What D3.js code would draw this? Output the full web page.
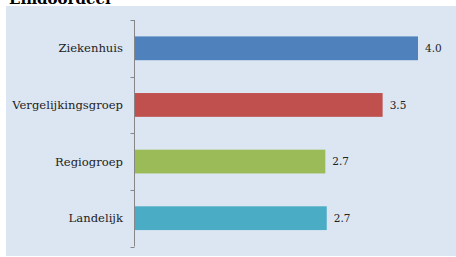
<!DOCTYPE html>
<meta charset="utf-8">
<style>
body { margin: 0; background: #fff; }
.label { font: 11.6px "DejaVu Serif", serif; fill: #222; }
.value { font: 10.5px "DejaVu Serif", serif; fill: #222; }
</style>
<body>
<div id="graph"></div>
<script src="https://d3js.org/d3.v7.min.js"></script>
<script>
var categories = ["Ziekenhuis", "Vergelijkingsgroep", "Regiogroep", "Landelijk"];
var values = [4.0, 3.5, 2.69, 2.71];
var valueLabels = ["4.0", "3.5", "2.7", "2.7"];
var colors = ["#4f81bd", "#c0504d", "#9bbb59", "#4bacc6"];
var title = "Eindoordeel";

var width = 456, height = 257;

var svg = d3.select("#graph").append("svg")
    .attr("width", width)
    .attr("height", height);

// panel
svg.append("rect")
    .attr("x", 6).attr("y", 6)
    .attr("width", 450).attr("height", 250)
    .attr("fill", "#dce6f2");

// title, mostly cut off at the top (as in the original)
svg.append("text")
    .attr("x", 9).attr("y", 4)
    .attr("font-family", "DejaVu Serif, serif")
    .attr("font-weight", "bold")
    .attr("font-size", "15px")
    .attr("fill", "#000")
    .text(title);

var x = d3.scaleLinear().domain([0, 4]).range([135, 418]);
var y = d3.scaleBand().domain(categories).range([20, 246.5]).paddingInner(0.58).paddingOuter(0.29);

// axis line + ticks between bands
var axisX = 134.5;
var band = (246.5 - 20) / categories.length;
var g = svg.append("g");
g.append("line")
    .attr("x1", axisX).attr("x2", axisX)
    .attr("y1", 20).attr("y2", 246.5)
    .attr("stroke", "#868686").attr("stroke-width", 1);
d3.range(categories.length + 1).forEach(function(i) {
    var yy = Math.round(20 + i * band) + 0.5;
    g.append("line")
        .attr("x1", axisX - 4).attr("x2", axisX)
        .attr("y1", yy).attr("y2", yy)
        .attr("stroke", "#868686");
});

svg.selectAll(".bar")
    .data(categories)
    .enter().append("rect")
    .attr("class", "bar")
    .attr("x", x(0))
    .attr("y", function(d) { return y(d); })
    .attr("width", function(d, i) { return x(values[i]) - x(0); })
    .attr("height", y.bandwidth())
    .attr("fill", function(d, i) { return colors[i]; });

svg.selectAll(".label")
    .data(categories)
    .enter().append("text")
    .attr("class", "label")
    .attr("x", 123)
    .attr("y", function(d) { return y(d) + y.bandwidth() / 2; })
    .attr("dy", "0.35em")
    .attr("text-anchor", "end")
    .text(function(d) { return d; });

svg.selectAll(".value")
    .data(categories)
    .enter().append("text")
    .attr("class", "value")
    .attr("x", function(d, i) { return x(values[i]) + 7; })
    .attr("y", function(d) { return y(d) + y.bandwidth() / 2; })
    .attr("dy", "0.35em")
    .text(function(d, i) { return valueLabels[i]; });
</script>
</body>
